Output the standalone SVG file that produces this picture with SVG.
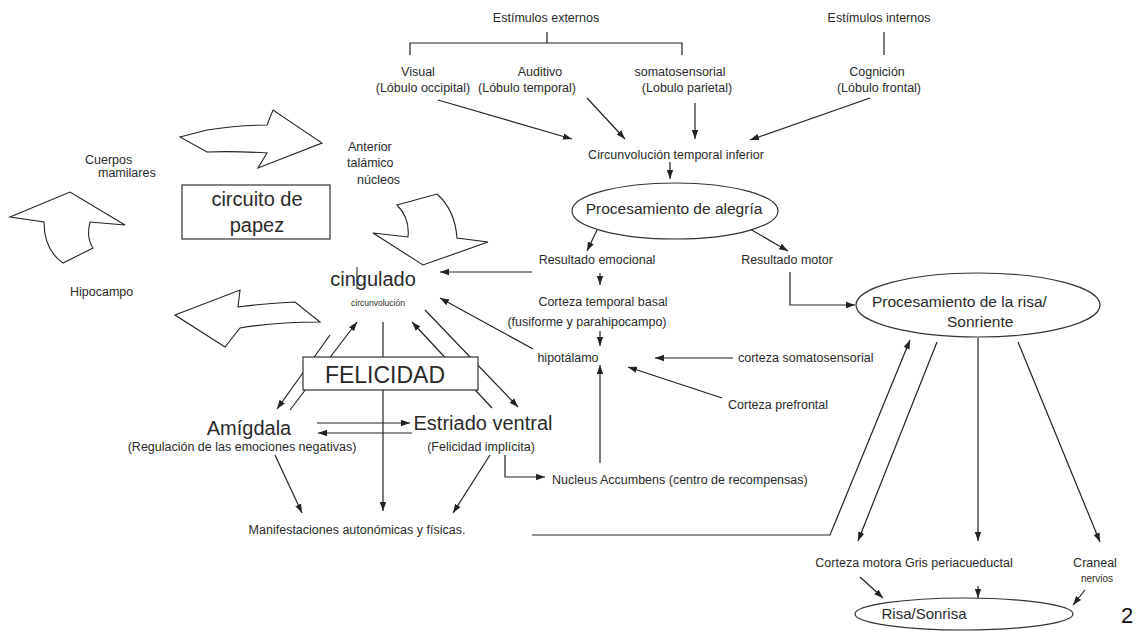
<svg xmlns="http://www.w3.org/2000/svg" width="1142" height="634" viewBox="0 0 1142 634">
<style>
text{font-family:"Liberation Sans",Arial,sans-serif;fill:#2a2a2a}
.s{font-size:12.5px}
.m{font-size:15.5px}
.l{font-size:20px}
.c{text-anchor:middle}
.ln{fill:none;stroke:#222;stroke-width:1.2}
.a{marker-end:url(#ah)}
.blk{fill:#fff;stroke:#222;stroke-width:1.1;stroke-linejoin:miter}
.box{fill:#fff;stroke:#333;stroke-width:1.2}
.ell{fill:#fff;stroke:#333;stroke-width:1.2}
</style>
<defs>
<marker id="ah" markerUnits="userSpaceOnUse" markerWidth="10" markerHeight="8" refX="9" refY="4" orient="auto">
<path d="M0,0.8 L9,4 L0,7.2 Z" fill="#222"/>
</marker>
</defs>
<rect width="1142" height="634" fill="#fff"/>

<g id="connectors">
<path class="ln" d="M410,55 V43 H682 V55 M547,32 V43"/>
<path class="ln" d="M884,32 V55"/>
<line class="ln a" x1="438" y1="100" x2="572" y2="139"/>
<line class="ln a" x1="587" y1="98" x2="625" y2="139"/>
<line class="ln a" x1="695" y1="103" x2="695" y2="139"/>
<line class="ln a" x1="870" y1="98" x2="750" y2="140"/>
<line class="ln a" x1="670" y1="162" x2="670" y2="179"/>
<line class="ln a" x1="597" y1="230" x2="587" y2="251"/>
<line class="ln a" x1="750" y1="229" x2="788" y2="251"/>
<line class="ln a" x1="532" y1="272" x2="440" y2="272"/>
<line class="ln a" x1="600" y1="273" x2="600" y2="285"/>
<line class="ln a" x1="600" y1="331" x2="600" y2="346"/>
<line class="ln a" x1="533" y1="349" x2="440" y2="298"/>
<line class="ln a" x1="733" y1="358" x2="655" y2="358"/>
<line class="ln a" x1="722" y1="398" x2="628" y2="367"/>
<line class="ln a" x1="600" y1="463" x2="600" y2="365"/>
<path class="ln a" d="M790,272 V305 H855"/>
<line class="ln a" x1="330" y1="335" x2="277" y2="409"/>
<line class="ln a" x1="290" y1="410" x2="357" y2="322"/>
<line class="ln a" x1="425" y1="310" x2="518" y2="407"/>
<line class="ln a" x1="492" y1="408" x2="412" y2="322"/>
<line class="ln a" x1="383" y1="322" x2="383" y2="511"/>
<line class="ln a" x1="317" y1="423" x2="410" y2="423"/>
<line class="ln a" x1="412" y1="433" x2="318" y2="433"/>
<line class="ln a" x1="275" y1="455" x2="302" y2="513"/>
<line class="ln a" x1="490" y1="455" x2="453" y2="513"/>
<path class="ln a" d="M505,455 V477 H545"/>
<path class="ln a" d="M532,535 H830 L910,340"/>
<line class="ln a" x1="937" y1="342" x2="858" y2="541"/>
<line class="ln a" x1="978" y1="338" x2="978" y2="541"/>
<line class="ln a" x1="1018" y1="342" x2="1100" y2="542"/>
<line class="ln a" x1="860" y1="577" x2="883" y2="598"/>
<line class="ln a" x1="978" y1="586" x2="978" y2="598"/>
<line class="ln a" x1="1085" y1="590" x2="1073" y2="605"/>
</g>

<g id="papez-arrows">
<path class="blk" d="M180,137 L207,130 Q240,125 267,125 L273,110 L322,143 L258,168 L267,153 Q235,151 207,152 Z"/>
<path class="blk" d="M10,217 L70,192 L125,225 L90,222 Q86,238 93,248 L63,263 Q44,250 44,222 Z"/>
<path class="blk" d="M175,315 L240,290 L238,307 Q268,303 295,302 L320,322 Q275,322 240,328 L225,347 Z"/>
<path class="blk" d="M397,205 L437,194 Q455,210 457,238 L488,242 L423,265 L373,233 L408,237 Q410,218 397,205 Z"/>
</g>

<g id="n-est-ext"><text class="s c" x="546" y="22">Estímulos externos</text></g>
<g id="n-est-int"><text class="s c" x="879" y="22">Estímulos internos</text></g>
<g id="n-visual"><text class="s c" x="418" y="76">Visual</text><text class="s c" x="423" y="92">(Lóbulo occipital)</text></g>
<g id="n-auditivo"><text class="s c" x="540" y="76">Auditivo</text><text class="s c" x="527" y="92">(Lóbulo temporal)</text></g>
<g id="n-somato"><text class="s c" x="680" y="76">somatosensorial</text><text class="s c" x="687" y="92">(Lobulo parietal)</text></g>
<g id="n-cognicion"><text class="s c" x="877" y="76">Cognición</text><text class="s c" x="879" y="92">(Lóbulo frontal)</text></g>
<g id="n-circ-temp"><text class="s c" x="676" y="159">Circunvolución temporal inferior</text></g>
<g id="n-alegria"><ellipse class="ell" cx="675" cy="211" rx="103" ry="28"/><text class="m c" x="674" y="214">Procesamiento de alegría</text></g>
<g id="n-res-emo"><text class="s c" x="597" y="264">Resultado emocional</text></g>
<g id="n-res-mot"><text class="s c" x="787" y="264">Resultado motor</text></g>
<g id="n-ctb"><text class="s c" x="603" y="306">Corteza temporal basal</text><text class="s c" x="587" y="326">(fusiforme y parahipocampo)</text></g>
<g id="n-hipotalamo"><text class="s c" x="568" y="362">hipotálamo</text></g>
<g id="n-csomato"><text class="s" x="738" y="362">corteza somatosensorial</text></g>
<g id="n-cpref"><text class="s" x="728" y="409">Corteza prefrontal</text></g>
<g id="n-nucleus"><text class="s" x="552" y="484">Nucleus Accumbens (centro de recompensas)</text></g>
<g id="n-manif"><text class="s c" x="357" y="534">Manifestaciones autonómicas y físicas.</text></g>
<g id="n-amigdala"><text class="l c" x="249" y="435">Amígdala</text><text class="s c" x="242" y="451">(Regulación de las emociones negativas)</text></g>
<g id="n-estriado"><text class="l c" x="483" y="430">Estriado ventral</text><text class="s c" x="481" y="451">(Felicidad implícita)</text></g>
<g id="n-cingulado"><text class="l c" x="373" y="286">cingulado</text><line x1="357" y1="267" x2="357" y2="289" stroke="#222" stroke-width="1"/><text class="c" x="378" y="306" style="font-size:8.5px">circunvolución</text></g>
<g id="n-felicidad"><rect class="box" x="303" y="357" width="175" height="33"/><text class="c" x="385" y="383" style="font-size:23px">FELICIDAD</text></g>
<g id="n-papez"><rect class="box" x="182" y="185" width="148" height="54"/><text class="l c" x="257" y="206">circuito de</text><text class="l c" x="257" y="232">papez</text></g>
<g id="n-cuerpos"><text class="s" x="85" y="164">Cuerpos</text><text class="s" x="98" y="177">mamilares</text></g>
<g id="n-hipocampo"><text class="s" x="70" y="296">Hipocampo</text></g>
<g id="n-anterior"><text class="s" x="348" y="151">Anterior</text><text class="s" x="347" y="167">talámico</text><text class="s" x="357" y="184">núcleos</text></g>
<g id="n-risa-proc"><ellipse class="ell" cx="978" cy="305" rx="122" ry="32"/><text class="m" x="872" y="307">Procesamiento de la risa/</text><text class="m" x="947" y="327">Sonriente</text></g>
<g id="n-corteza-motora"><text class="s c" x="914" y="567">Corteza motora Gris periacueductal</text></g>
<g id="n-craneal"><text class="s c" x="1095" y="567">Craneal</text><text class="c" x="1097" y="582" style="font-size:10px">nervios</text></g>
<g id="n-risa"><ellipse class="ell" cx="964" cy="614" rx="109" ry="16"/><text class="c" x="924" y="619" style="font-size:15px">Risa/Sonrisa</text></g>
<g id="page-num"><text x="1121" y="623" style="font-size:22px;fill:#111">2</text></g>
</svg>
